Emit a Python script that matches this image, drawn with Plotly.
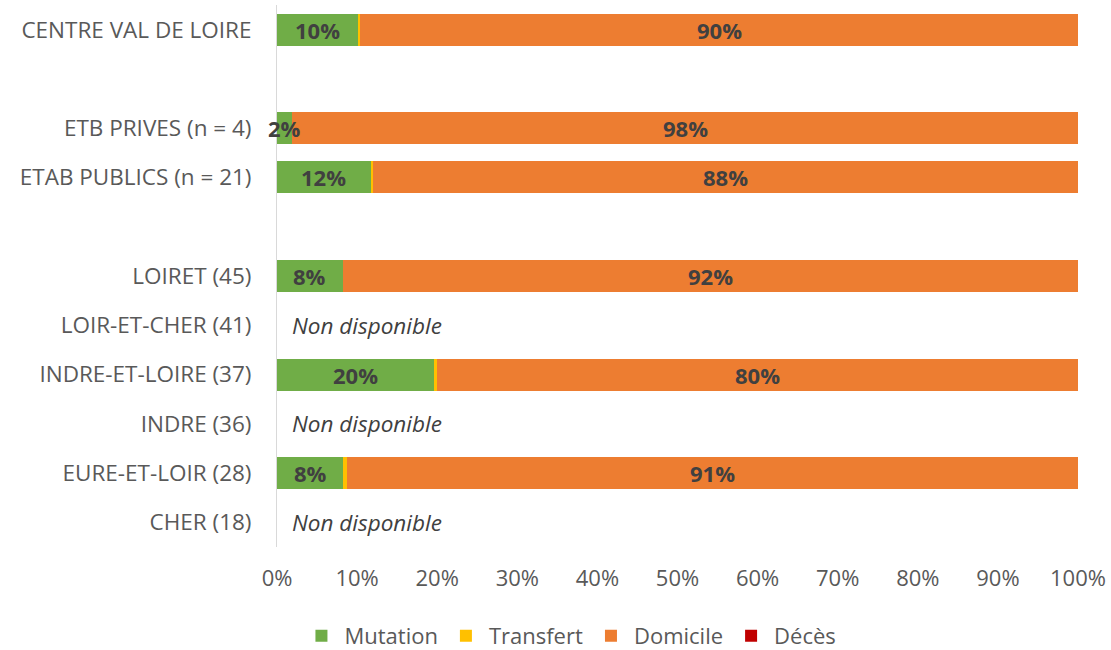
import plotly.graph_objects as go

# Rows from top to bottom; blank names keep the gaps between groups
categories = ["CENTRE VAL DE LOIRE", " ", "ETB PRIVES (n = 4)", "ETAB PUBLICS (n = 21)", "  ",
              "LOIRET (45)", "LOIR-ET-CHER (41)", "INDRE-ET-LOIRE (37)", "INDRE (36)",
              "EURE-ET-LOIR (28)", "CHER (18)"]
mutation = [10.1, None, 1.9, 11.7, None, 8.2, None, 19.6, None, 8.3, None]
transfert = [0.3, None, 0.0, 0.3, None, 0.0, None, 0.4, None, 0.5, None]
domicile = [89.6, None, 98.1, 88.0, None, 91.8, None, 80.0, None, 91.2, None]
deces = [0.0, None, 0.0, 0.0, None, 0.0, None, 0.0, None, 0.0, None]
unavailable = ["LOIR-ET-CHER (41)", "INDRE (36)", "CHER (18)"]
x_ticks = [0, 10, 20, 30, 40, 50, 60, 70, 80, 90, 100]

FONT = "Open Sans"
GREY = "#595959"
LABEL = "#404040"

series = [
    ("Mutation", mutation, "#70AD47", True),
    ("Transfert", transfert, "#FFC000", False),
    ("Domicile", domicile, "#ED7D31", True),
    ("Décès", deces, "#C00000", False),
]

fig = go.Figure()
for name, vals, color, _ in series:
    fig.add_trace(go.Bar(
        name=name, y=categories, x=vals, orientation="h",
        marker=dict(color=color, line=dict(width=0)),
        hoverinfo="skip",
    ))

# Percentage labels centred on each labelled segment, drawn above all bars
for i, cat in enumerate(categories):
    left = 0.0
    for name, vals, color, labelled in series:
        v = vals[i]
        if v is None:
            continue
        if labelled and v >= 1:
            fig.add_annotation(x=left + v / 2, y=cat, xref="x", yref="y",
                               text=f"<b>{round(v):d}%</b>", showarrow=False,
                               font=dict(family=FONT, size=22, color=LABEL))
        left += v

for cat in unavailable:
    fig.add_annotation(x=0, y=cat, xref="x", yref="y", text="<i>Non disponible</i>",
                       showarrow=False, xanchor="left", xshift=13,
                       font=dict(family=FONT, size=22.5, color=LABEL))

fig.update_layout(
    barmode="stack", bargap=0.35,
    width=1111, height=650,
    margin=dict(l=277, r=33, t=5, b=103, autoexpand=False),
    plot_bgcolor="white", paper_bgcolor="white",
    font=dict(family=FONT, size=22, color=GREY),
    legend=dict(orientation="h", x=0.513, xref="container", xanchor="center",
                y=-0.164, yanchor="middle", font=dict(size=22, color=GREY),
                traceorder="normal", itemwidth=36),
    showlegend=True,
)
fig.update_xaxes(range=[0, 100], tickvals=x_ticks, ticktext=[f"{t}%" for t in x_ticks],
                 showgrid=False, zeroline=False, showline=False, ticks="",
                 tickfont=dict(size=22, color=GREY), ticklabelstandoff=16)
fig.update_yaxes(categoryorder="array", categoryarray=categories, autorange="reversed",
                 showgrid=False, zeroline=False, showline=True, linecolor="#D9D9D9",
                 linewidth=1, ticks="", ticklabelstandoff=20,
                 tickfont=dict(size=22.5, color=GREY))

fig.write_html("out.html")
